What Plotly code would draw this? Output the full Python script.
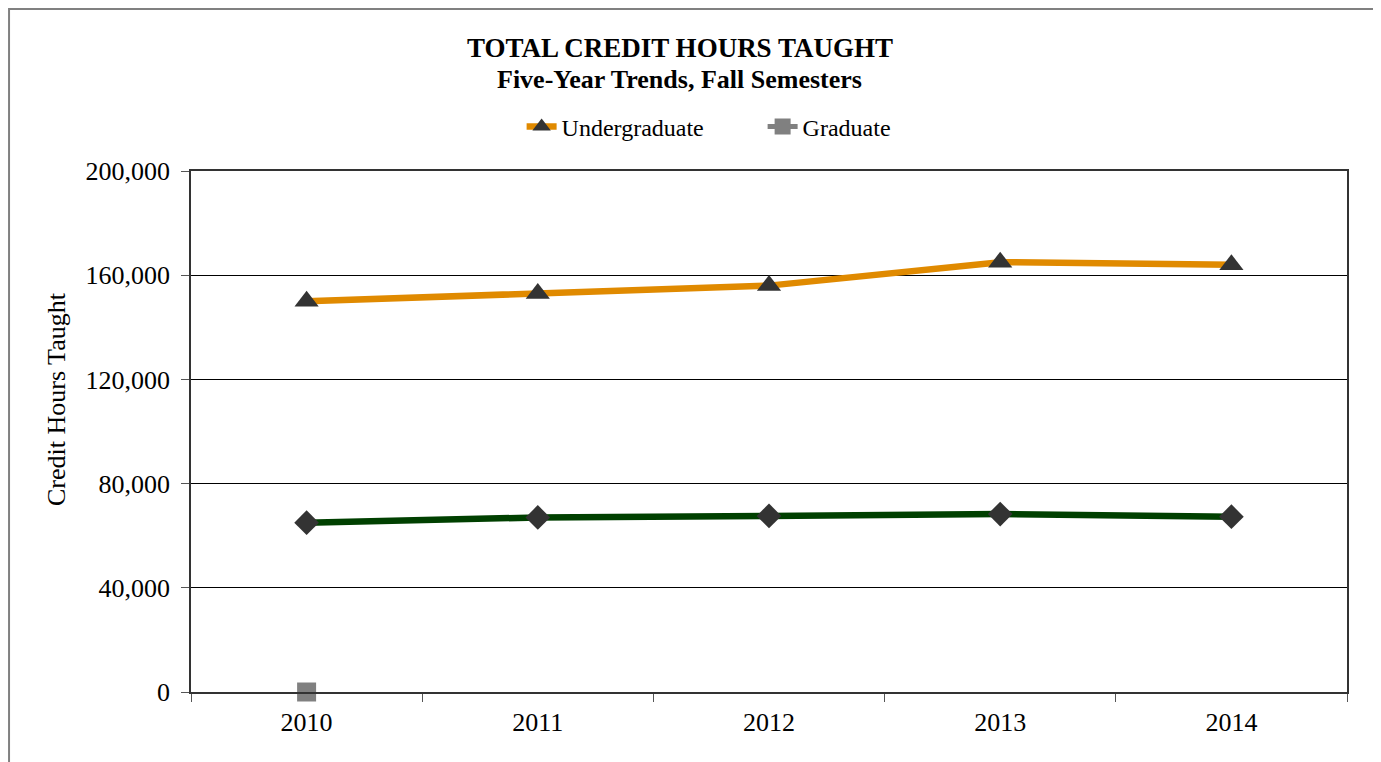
import plotly.graph_objects as go

years = ["2010", "2011", "2012", "2013", "2014"]
undergrad = [150000, 153000, 156000, 165000, 164000]
total_grad = [65000, 67000, 67600, 68300, 67300]
grad_years = ["2010"]
graduate = [0]
y_ticks = [0, 40000, 80000, 120000, 160000, 200000]

FONT = "Liberation Serif, Times New Roman, serif"

fig = go.Figure()

fig.add_trace(go.Scatter(
    x=years, y=undergrad, name="Undergraduate", mode="lines+markers",
    line=dict(color="#E08A00", width=6.5),
    marker=dict(symbol="triangle-up", size=21, color="#333333"),
))
fig.add_trace(go.Scatter(
    x=grad_years, y=graduate, name="Graduate", mode="lines+markers",
    line=dict(color="#808080", width=5),
    marker=dict(symbol="square", size=19, color="#808080"),
    cliponaxis=False,
))
fig.add_trace(go.Scatter(
    x=years, y=total_grad, name="", mode="lines+markers", showlegend=False,
    line=dict(color="#004000", width=6.5),
    marker=dict(symbol="diamond", size=19, color="#333333"),
))

# outer chart border
fig.add_shape(type="rect", xref="paper", yref="paper",
              x0=-0.1574, x1=1.0251, y0=-0.2, y1=1.311,
              line=dict(color="#808080", width=2), layer="below")

# second title line and y axis title (sits above the plot centre)
fig.add_annotation(text="<b>Five-Year Trends, Fall Semesters</b>",
                   xref="paper", yref="paper", x=0.423, y=1.1747,
                   xanchor="center", yanchor="middle", showarrow=False,
                   font=dict(family=FONT, size=26, color="black"))
fig.add_annotation(text="Credit Hours Taught", textangle=-90,
                   xref="paper", yref="paper", x=-0.1159, y=0.5624,
                   xanchor="center", yanchor="middle", showarrow=False,
                   font=dict(family=FONT, size=26, color="black"))

fig.update_layout(
    width=1373, height=754,
    margin=dict(l=183, r=34, t=163, b=70),
    paper_bgcolor="white", plot_bgcolor="white",
    font=dict(family=FONT, size=24, color="black"),
    title=dict(
        text="<b>TOTAL CREDIT HOURS TAUGHT</b>",
        x=0.423, xref="paper", xanchor="center",
        y=1 - 40 / 754, yref="container", yanchor="middle",
        font=dict(family=FONT, size=27, color="black"),
    ),
    legend=dict(
        orientation="h", x=0.286, xanchor="left",
        y=1.0845, yanchor="middle",
        font=dict(family=FONT, size=24, color="black"),
        entrywidth=196,
    ),
    showlegend=True,
)

fig.update_xaxes(
    type="category", range=[-0.5, 4.5],
    tickson="boundaries", ticks="outside", ticklen=8, tickcolor="#555555",
    showline=True, linecolor="#333333", linewidth=1.5, mirror=True,
    showgrid=False, tickfont=dict(family=FONT, size=26), ticklabelstandoff=6,
)
fig.update_yaxes(
    range=[0, 200000], tickvals=y_ticks, tickformat=",d",
    ticks="outside", ticklen=8, tickcolor="#555555",
    showline=True, linecolor="#333333", linewidth=1.5, mirror=True,
    showgrid=True, gridcolor="black", gridwidth=1,
    zeroline=False, ticklabelstandoff=6,
    tickfont=dict(family=FONT, size=26),
)

fig.write_html("out.html")
